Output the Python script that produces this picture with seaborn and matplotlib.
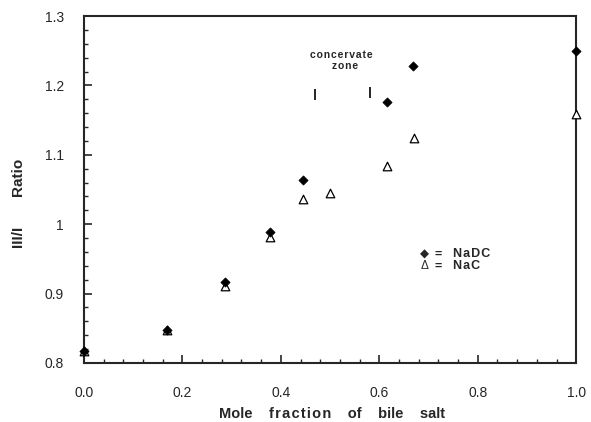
import pandas as pd
import numpy as np
import matplotlib.pyplot as plt
import seaborn as sns
from matplotlib.ticker import MultipleLocator

sns.set_style("ticks")
plt.rcParams['font.family'] = ['Liberation Sans', 'DejaVu Sans']

# values
nadc_x = [0.0, 0.168, 0.287, 0.377, 0.445, 0.615, 0.669, 1.0]
nadc_y = [0.817, 0.848, 0.917, 0.988, 1.064, 1.176, 1.228, 1.249]
nac_x = [0.0, 0.168, 0.287, 0.377, 0.445, 0.50, 0.615, 0.671, 1.0]
nac_y = [0.817, 0.848, 0.911, 0.981, 1.036, 1.045, 1.084, 1.124, 1.159]
zone_x = [0.47, 0.582]
zone_y = [1.187, 1.190]
xticks = [0.0, 0.2, 0.4, 0.6, 0.8, 1.0]
xtick_labels = ["0.0", "0.2", "0.4", "0.6", "0.8", "1.0"]
yticks = [0.8, 0.9, 1.0, 1.1, 1.2, 1.3]
ytick_labels = ["0.8", "0.9", "1", "1.1", "1.2", "1.3"]

nadc = pd.DataFrame({"x": nadc_x, "y": nadc_y})
nac = pd.DataFrame({"x": nac_x, "y": nac_y})

HS = "\u200a"  # hair space, widens letter spacing like the scan

def spread(word):
    return HS.join(word)

fig = plt.figure(figsize=(5.91, 4.22), dpi=100)
ax = fig.add_axes([0.142, 0.14, 0.833, 0.822])

sns.scatterplot(data=nac, x="x", y="y", marker="^", s=38, facecolors="white",
                edgecolor="black", linewidth=0.9, ax=ax, zorder=3, clip_on=False)
sns.scatterplot(data=nadc, x="x", y="y", marker="D", s=22, color="black",
                edgecolor="black", linewidth=0.5, ax=ax, zorder=4, clip_on=False)

# concervate zone bars
ax.errorbar(zone_x, zone_y, yerr=0.0075, fmt="none", ecolor="black", elinewidth=1.2, capsize=0)
ax.text(0.522, 1.244, spread("concervate"), ha="center", va="center", fontsize=7.5, fontweight="bold")
ax.text(0.53, 1.228, spread("zone"), ha="center", va="center", fontsize=7.5, fontweight="bold")

# legend written as text like the original
ly1, ly2 = 0.9565, 0.9392
ax.text(0.692, ly1, "\u25c6", ha="center", va="center", fontsize=8.5)
ax.text(0.719, ly1, "=", ha="center", va="center", fontsize=9, fontweight="bold")
ax.text(0.749, ly1, spread("NaDC"), ha="left", va="center", fontsize=9, fontweight="bold")
ax.text(0.692, ly2, "\u0394", ha="center", va="center", fontsize=8.5)
ax.text(0.719, ly2, "=", ha="center", va="center", fontsize=9, fontweight="bold")
ax.text(0.749, ly2, spread("NaC"), ha="left", va="center", fontsize=9, fontweight="bold")

ax.set_xlim(0, 1.0)
ax.set_ylim(0.8, 1.3)
ax.set_xticks(xticks, xtick_labels)
ax.set_yticks(yticks, ytick_labels)
ax.xaxis.set_minor_locator(MultipleLocator(0.04))
ax.yaxis.set_minor_locator(MultipleLocator(0.02))
ax.tick_params(which="major", direction="in", length=6, width=1.2, labelsize=10)
ax.tick_params(which="minor", direction="in", length=3, width=1)
ax.tick_params(axis="x", which="major", pad=16.5)
ax.tick_params(axis="y", which="major", pad=14.5)
for sp in ax.spines.values():
    sp.set_linewidth(1.5)

ax.set_xlabel("Mole    " + spread("fraction") + "    of    bile    salt",
              fontsize=10.5, fontweight="bold")
ax.xaxis.set_label_coords(0.503, -0.126)
ax.set_ylabel("III/I       Ratio", fontsize=11, fontweight="bold")
ax.yaxis.set_label_coords(-0.118, 0.46)

fig.savefig("out.png", dpi=100)
